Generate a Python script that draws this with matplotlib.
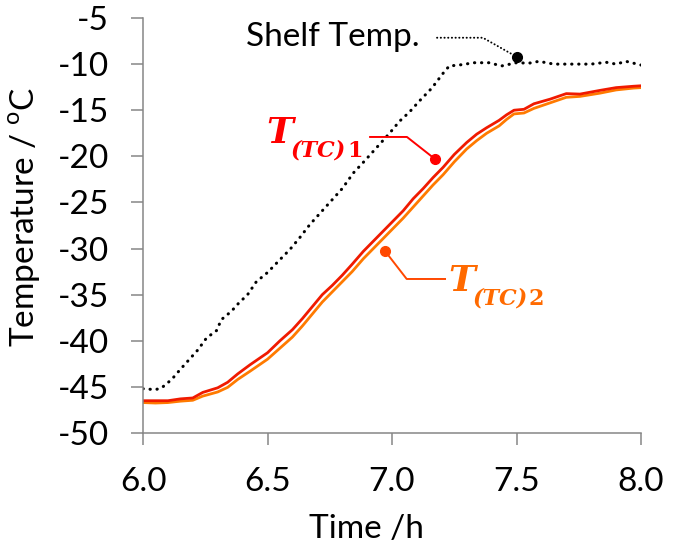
import matplotlib
matplotlib.use('Agg')
import matplotlib.pyplot as plt

plt.rcParams['font.family'] = ['Lato', 'DejaVu Sans']
plt.rcParams['axes.unicode_minus'] = False
plt.rcParams['mathtext.fontset'] = 'custom'
plt.rcParams['mathtext.rm'] = 'Lato'

# shelf temperature (dotted black)
shelf_t = [6.00, 6.05, 6.075, 6.115, 6.15, 6.19, 6.22, 6.255, 6.295, 6.315, 6.355, 6.385,
           6.42, 6.455, 6.50, 6.55, 6.59, 6.63, 6.67, 6.71, 6.75, 6.80, 6.845, 6.89, 6.94,
           6.99, 7.03, 7.07, 7.11, 7.16, 7.205, 7.23, 7.27, 7.33, 7.39, 7.44, 7.50, 7.55,
           7.59, 7.65, 7.73, 7.80, 7.86, 7.90, 7.94, 8.00]
shelf_T = [-45.2, -45.3, -45.1, -44.2, -43.1, -41.9, -41.0, -39.7, -38.9, -37.7, -36.8, -35.9,
           -35.0, -33.6, -32.6, -31.2, -30.1, -28.8, -27.4, -26.2, -25.0, -23.5, -21.8, -20.5, -19.0,
           -17.5, -16.2, -15.2, -14.0, -12.6, -11.0, -10.2, -10.1, -9.85, -9.85, -10.2, -9.85, -9.9,
           -9.7, -10.0, -10.0, -10.0, -9.8, -10.0, -9.7, -10.1]

# thermocouple temperatures
tc_t = [6.00, 6.05, 6.10, 6.15, 6.20, 6.24, 6.30, 6.34, 6.38, 6.43, 6.50, 6.55, 6.60, 6.64,
        6.68, 6.72, 6.76, 6.80, 6.84, 6.885, 6.925, 6.965, 7.005, 7.045, 7.085, 7.125, 7.165,
        7.205, 7.25, 7.30, 7.34, 7.38, 7.43, 7.46, 7.49, 7.53, 7.57, 7.635, 7.70, 7.755, 7.835,
        7.90, 7.97, 8.00]
tc1_T = [-46.5, -46.5, -46.5, -46.3, -46.2, -45.6, -45.1, -44.5, -43.6, -42.6, -41.3, -40.0,
         -38.8, -37.6, -36.3, -35.0, -34.0, -32.9, -31.7, -30.3, -29.2, -28.1, -27.0, -25.9,
         -24.6, -23.5, -22.3, -21.2, -19.8, -18.5, -17.6, -16.9, -16.1, -15.5, -15.0, -14.9,
         -14.3, -13.8, -13.2, -13.25, -12.85, -12.55, -12.4, -12.35]
tc2_T = [-46.7, -46.75, -46.7, -46.55, -46.45, -46.0, -45.55, -45.05, -44.2, -43.3, -42.0, -40.8,
         -39.6, -38.4, -37.1, -35.8, -34.7, -33.6, -32.5, -31.1, -30.0, -28.9, -27.8, -26.7,
         -25.5, -24.3, -23.1, -22.0, -20.6, -19.2, -18.3, -17.5, -16.7, -16.0, -15.4, -15.3,
         -14.8, -14.2, -13.6, -13.5, -13.15, -12.8, -12.6, -12.55]

x_ticks = [6.0, 6.5, 7.0, 7.5, 8.0]
y_ticks = [-50, -45, -40, -35, -30, -25, -20, -15, -10, -5]

axis_grey = '#868686'
red = '#F01A00'
orange = '#FF7A00'

fig = plt.figure(figsize=(6.74, 5.47), dpi=100)
ax = fig.add_axes([143 / 674, 114 / 547, 498 / 674, 415 / 547])

ax.plot(shelf_t, shelf_T, color='black', lw=2.2, linestyle=(0, (0.1, 2.2)),
        dash_capstyle='round')
ax.plot(tc_t, tc2_T, color=orange, lw=2.0)
ax.plot(tc_t, tc1_T, color=red, lw=2.0)

ax.set_xlim(6.0, 8.0)
ax.set_ylim(-50, -5)
ax.set_xticks(x_ticks)
ax.set_xticklabels(['%.1f' % v for v in x_ticks])
ax.set_yticks(y_ticks)
ax.set_yticklabels([str(v) for v in y_ticks])

for s in ['top', 'right']:
    ax.spines[s].set_visible(False)
for s in ['left', 'bottom']:
    ax.spines[s].set_color(axis_grey)
    ax.spines[s].set_linewidth(1.1)
ax.tick_params(direction='out', length=8.5, width=1.1, color=axis_grey,
               labelsize=24, pad=16)

ax.set_xlabel('Time /h', fontsize=24)
ax.xaxis.set_label_coords(0.448, -0.195)
ax.set_ylabel('Temperature / $^{\\mathrm{o}}$C', fontsize=24)
ax.yaxis.set_label_coords(-0.2, 0.52)

# Shelf Temp. callout
ax.text(6.414, -8.04, 'Shelf Temp.', fontsize=24, ha='left', va='baseline')
ax.plot([7.181, 7.365, 7.502], [-7.14, -7.14, -9.23], color='black', lw=1.4,
        linestyle=(0, (0.1, 1.8)), dash_capstyle='round')
ax.plot([7.502], [-9.23], 'o', color='black', ms=7)

# T(TC)1 callout
ax.plot([6.912, 7.060, 7.173], [-17.9, -17.9, -20.3], color='#FF0000', lw=1.4)
ax.plot([7.173], [-20.3], 'o', color='#FF0000', ms=7)
t1 = ax.text(6.495, -18.55, 'T', fontsize=26, family='DejaVu Serif', weight='bold',
             style='italic', color='#FF0000', ha='left', va='baseline')
s1 = ax.annotate('(TC)', xy=(1, 0), xycoords=t1, xytext=(-1.5, -5), textcoords='offset points',
                 fontsize=16, family='DejaVu Serif', weight='bold', style='italic',
                 color='#FF0000', ha='left', va='baseline')
ax.annotate('1', xy=(1, 0), xycoords=s1, xytext=(0.5, 0), textcoords='offset points',
            fontsize=16, family='DejaVu Serif', weight='bold', color='#FF0000',
            ha='left', va='bottom')

# T(TC)2 callout
ax.plot([6.972, 7.059, 7.213], [-30.27, -33.3, -33.3], color='#FF4800', lw=1.4)
ax.plot([6.972], [-30.27], 'o', color='#FF4800', ms=7)
t2 = ax.text(7.225, -34.6, 'T', fontsize=26, family='DejaVu Serif', weight='bold',
             style='italic', color='#FF6A00', ha='left', va='baseline')
s2 = ax.annotate('(TC)', xy=(1, 0), xycoords=t2, xytext=(-1.5, -5), textcoords='offset points',
                 fontsize=16, family='DejaVu Serif', weight='bold', style='italic',
                 color='#FF6A00', ha='left', va='baseline')
ax.annotate('2', xy=(1, 0), xycoords=s2, xytext=(0.5, 0), textcoords='offset points',
            fontsize=16, family='DejaVu Serif', weight='bold', color='#FF6A00',
            ha='left', va='bottom')

plt.savefig('out.png', dpi=100)
plt.close()
